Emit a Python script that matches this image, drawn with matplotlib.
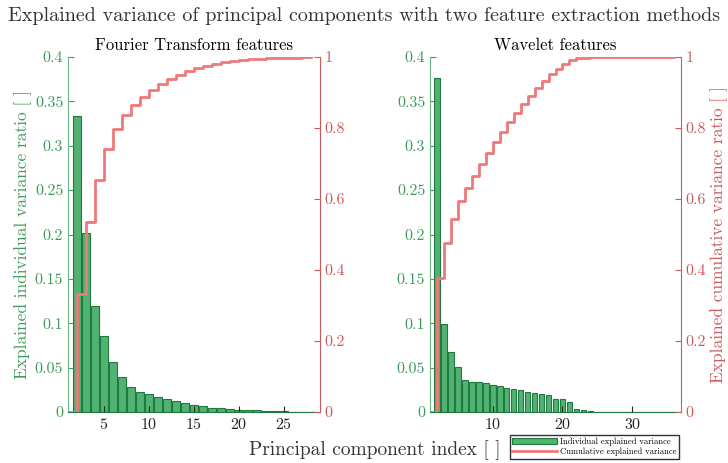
import matplotlib
matplotlib.use("Agg")
import matplotlib.pyplot as plt
import numpy as np

plt.rcParams['font.family'] = 'cmr10'
plt.rcParams['mathtext.fontset'] = 'cm'
plt.rcParams['axes.formatter.use_mathtext'] = True

# explained variance ratio per principal component
fourier_var = [0.333, 0.202, 0.119, 0.086, 0.056, 0.040, 0.028, 0.022, 0.020,
               0.017, 0.015, 0.0125, 0.0103, 0.0082, 0.0070, 0.0049, 0.0044,
               0.0033, 0.0025, 0.0021, 0.0017, 0.0013, 0.0010, 0.0007, 0.0005,
               0.0003, 0.0002]
wavelet_var = [0.3767, 0.0992, 0.0676, 0.0507, 0.0357, 0.0342, 0.0334, 0.0323,
               0.0304, 0.0289, 0.0274, 0.0259, 0.0252, 0.0229, 0.0218, 0.0207,
               0.0192, 0.0145, 0.0145, 0.0110, 0.0036, 0.0022, 0.0012, 0.0005,
               0.0002, 0.0001, 0.0, 0.0, 0.0, 0.0, 0.0, 0.0, 0.0, 0.0, 0.0]

titles = ['Fourier Transform features', 'Wavelet features']
xlims = [(1, 29), (1, 37)]
xticks = [[5, 10, 15, 20, 25], [10, 20, 30]]

bar_col = '#52b272'
bar_edge = '#1f7a3f'
green_txt = '#3f9a5c'
red_line = '#f07878'
red_txt = '#cc5a5a'

fig = plt.figure(figsize=(7.28, 4.63), dpi=100)
fig.suptitle('Explained variance of principal components with two feature extraction methods',
             fontsize=14.5, color='#333333', y=0.985)

axes_rects = [[68 / 728, 1 - 412 / 463, 252 / 728, 355 / 463],
              [430 / 728, 1 - 412 / 463, 251 / 728, 355 / 463]]

for k, var in enumerate([fourier_var, wavelet_var]):
    var = np.array(var)
    idx = np.arange(2, len(var) + 2)
    cum = np.minimum(np.concatenate([[0], np.cumsum(var)]), 1.0)
    steps_x = np.arange(1, len(var) + 2)

    ax = fig.add_axes(axes_rects[k])
    ax.bar(idx, var, width=0.8, color=bar_col, edgecolor=bar_edge, linewidth=0.8,
           label='Individual explained variance')
    ax.set_xlim(*xlims[k])
    ax.set_ylim(0, 0.4)
    ax.set_yticks([0, 0.05, 0.1, 0.15, 0.2, 0.25, 0.3, 0.35, 0.4])
    ax.set_yticklabels(['0', '0.05', '0.1', '0.15', '0.2', '0.25', '0.3', '0.35', '0.4'])
    ax.set_xticks(xticks[k])
    ax.tick_params(axis='y', direction='in', colors=green_txt, labelsize=11.5, length=4)
    ax.tick_params(axis='x', direction='in', colors='#222222', labelsize=11.5, length=4)
    ax.spines['top'].set_visible(False)
    ax.spines['left'].set_color('#6fb585')
    ax.spines['bottom'].set_color(bar_edge)
    ax.spines['right'].set_visible(False)
    ax.set_title(titles[k], fontsize=12, pad=5)

    ax2 = ax.twinx()
    ax2.step(steps_x, cum, where='post', color=red_line, linewidth=2,
             label='Cumulative explained variance')
    ax2.set_ylim(0, 1)
    ax2.set_yticks([0, 0.2, 0.4, 0.6, 0.8, 1])
    ax2.set_yticklabels(['0', '0.2', '0.4', '0.6', '0.8', '1'])
    ax2.tick_params(axis='y', direction='in', colors=red_txt, labelsize=11.5, length=4)
    ax2.spines['top'].set_visible(False)
    ax2.spines['left'].set_visible(False)
    ax2.spines['bottom'].set_visible(False)
    ax2.spines['right'].set_color(red_txt)

    if k == 0:
        ax.set_ylabel('Explained individual variance ratio [ ]', color=green_txt,
                      fontsize=12.5, labelpad=2)
    else:
        ax2.set_ylabel('Explained cumulative variance ratio [ ]', color=red_txt,
                       fontsize=12.5, labelpad=3)
        handles = ax.get_legend_handles_labels()[0] + ax2.get_legend_handles_labels()[0]
        labels = ['Individual explained variance', 'Cumulative explained variance']
        fig.legend(handles, labels, loc='lower right', bbox_to_anchor=(683 / 728, 0.0),
                   fontsize=6.2, frameon=True, fancybox=False, edgecolor='#333333',
                   framealpha=1, handlelength=5.2, borderpad=0.3, labelspacing=0.25,
                   handletextpad=0.3)

fig.text(375 / 728, 1 - 450 / 463, 'Principal component index [ ]', ha='center',
         va='center', fontsize=14, color='#333333')

fig.savefig('out.png', dpi=100)
